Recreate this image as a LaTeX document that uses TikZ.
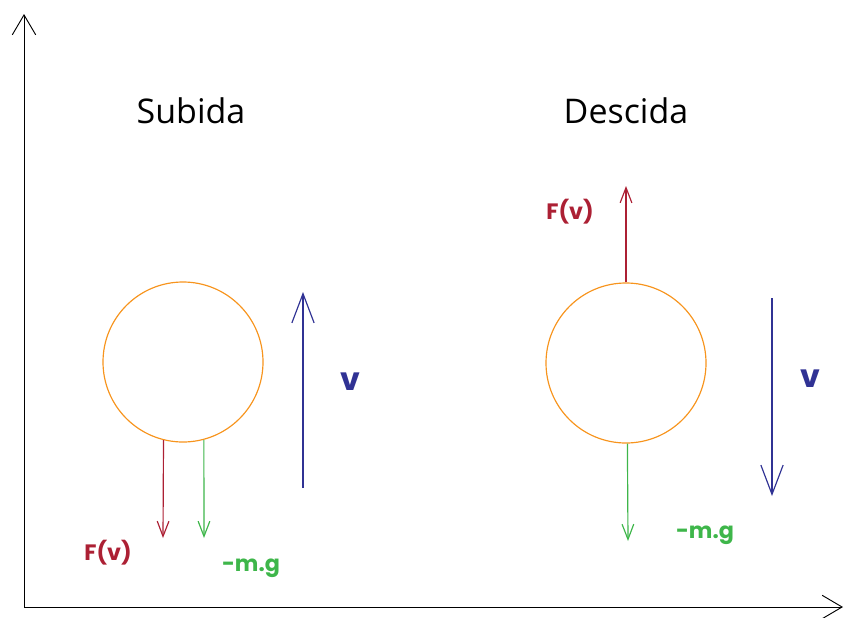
\documentclass[tikz,border=0pt]{standalone}
\usepackage{fontspec}
\setmainfont{Open Sans}
\newfontfamily\labelfont{Poppins}[BoldFont={Poppins Bold}]
\usetikzlibrary{arrows.meta}

\definecolor{fred}{RGB}{172,32,52}
\definecolor{fgreen}{RGB}{62,182,74}
\definecolor{fblue}{RGB}{48,50,148}
\definecolor{forange}{RGB}{247,148,29}

\begin{document}
\begin{tikzpicture}[x=0.03cm, y=-0.03cm,
    ball/.style={draw=forange, line width=1pt, circle, minimum size=4.8cm, inner sep=0pt},
    force/.style={-{Straight Barb[length=13pt, width=10pt]}, line width=1pt},
    speed/.style={-{Straight Barb[length=25pt, width=19pt]}, line width=1pt, fblue},
    axis/.style={-{Straight Barb[length=17pt, width=20pt]}, line width=0.8pt},
    title/.style={font=\fontsize{29}{32}\selectfont},
    lbl/.style={font=\labelfont\bfseries\fontsize{19}{21}\selectfont, inner sep=0pt}
]
\useasboundingbox (0,0) rectangle (845,617);

% axes
\coordinate (origin) at (24,607);
\coordinate (ytip) at (24,14);
\coordinate (xtip) at (843,607);
\draw[axis] (origin) -- (ytip);
\draw[axis] (origin) -- (xtip);

% titles
\node[title] (tUp) at (191,111) {Subida};
\node[title] (tDown) at (626,111) {Descida};

% subida
\node[ball] (ballUp) at (183,362) {};
\coordinate (fvUpEnd) at (163,538);
\coordinate (mgUpEnd) at (204,538);
\draw[force, fred] (ballUp.-104) -- (fvUpEnd);
\draw[force, fgreen] (ballUp.-75) -- (mgUpEnd);
\node[lbl, fred] (fvUp) at (108,553) {F(v)};
\node[lbl, fgreen] (mgUp) at (251,568) {-m.g};
\coordinate (vUpStart) at (303,488);
\coordinate (vUpEnd) at (303,292);
\draw[speed] (vUpStart) -- (vUpEnd);
\node[lbl, fblue, font=\labelfont\bfseries\fontsize{27}{30}\selectfont] (vUp) at (350,382) {v};

% descida
\node[ball] (ballDown) at (626,363) {};
\coordinate (fvDownEnd) at (626,186);
\coordinate (mgDownEnd) at (628,541);
\draw[force, fred] (ballDown.north) -- (fvDownEnd);
\draw[force, fgreen] (ballDown.-89) -- (mgDownEnd);
\node[lbl, fred] (fvDown) at (570,212) {F(v)};
\node[lbl, fgreen] (mgDown) at (705,535) {-m.g};
\coordinate (vDownStart) at (772,298);
\coordinate (vDownEnd) at (772,496);
\draw[speed] (vDownStart) -- (vDownEnd);
\node[lbl, fblue, font=\labelfont\bfseries\fontsize{27}{30}\selectfont] (vDown) at (810,379) {v};
\end{tikzpicture}
\end{document}
